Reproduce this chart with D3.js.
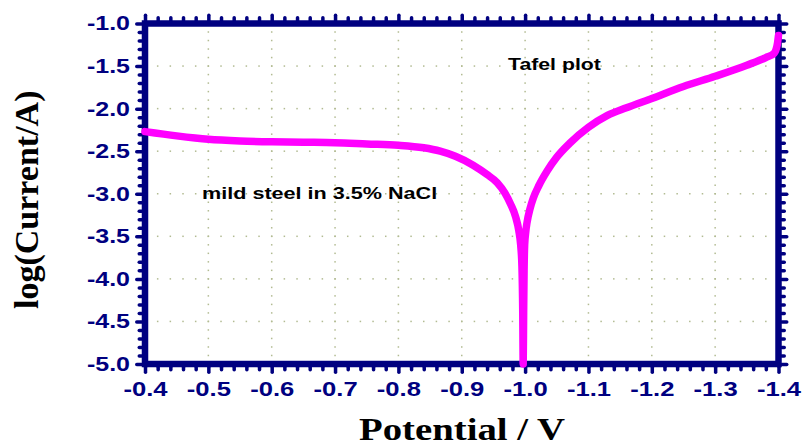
<!DOCTYPE html>
<html>
<head>
<meta charset="utf-8">
<script src="https://cdn.jsdelivr.net/npm/d3@7"></script>
<style>
  body { margin: 0; background: #fff; overflow: hidden; }
  svg { display: block; }
</style>
</head>
<body>
<div id="chart"></div>
<script>
// tick values
const xTicks = [-0.4, -0.5, -0.6, -0.7, -0.8, -0.9, -1.0, -1.1, -1.2, -1.3, -1.4];
const yTicks = [-1.0, -1.5, -2.0, -2.5, -3.0, -3.5, -4.0, -4.5, -5.0];

// polarisation curve (potential in V, log current)
const potential = [
  -0.40, -0.45, -0.50, -0.55, -0.60, -0.65, -0.70, -0.75, -0.80, -0.84,
  -0.866, -0.89, -0.918, -0.94, -0.956, -0.968, -0.977, -0.985, -0.990, -0.993,
  -0.995, -0.9963, -0.997, -0.9977, -0.9984, -0.9993, -1.001, -1.003, -1.008, -1.013,
  -1.022, -1.035, -1.05, -1.07, -1.10, -1.13, -1.16, -1.20, -1.25, -1.30,
  -1.35, -1.38, -1.393, -1.398, -1.40
];
const logCurrent = [
  -2.27, -2.32, -2.36, -2.38, -2.39, -2.395, -2.40, -2.415, -2.43, -2.46,
  -2.50, -2.56, -2.665, -2.775, -2.87, -2.99, -3.12, -3.27, -3.43, -3.60,
  -3.85, -4.4, -5.0, -4.4, -3.9, -3.6, -3.45, -3.34, -3.17, -3.05,
  -2.90, -2.73, -2.57, -2.41, -2.22, -2.08, -1.99, -1.88, -1.74, -1.62,
  -1.49, -1.40, -1.35, -1.25, -1.14
];

const W = 802, H = 447;
const navy = "#000080";

const svg = d3.select("#chart").append("svg")
  .attr("width", W).attr("height", H);

// scales
const x = d3.scaleLinear().domain([-0.4, -1.4]).range([145, 778.5]);
const y = d3.scaleLinear().domain([-1.0, -5.0]).range([23.5, 364]);
const [x0, x1] = x.range();
const [y0, y1] = y.range();

// stretch a text horizontally (the picture is wider than it is tall)
function stretch(sel, sx) {
  sel.each(function () {
    const w = this.getComputedTextLength();
    d3.select(this).attr("textLength", w * sx).attr("lengthAdjust", "spacingAndGlyphs");
  });
}

// dotted grid: dots at the minor steps along each major line
const xMinor = d3.range(0, 51).map((i) => -0.4 - i * 0.02);
const yMinor = d3.range(0, 41).map((i) => -1.0 - i * 0.1);
const grid = svg.append("g").attr("fill", "#b2bb92");
xTicks.slice(1, -1).forEach((v) => {
  grid.selectAll(null).data(yMinor.slice(1, -1)).join("rect")
    .attr("x", x(v) - 0.75).attr("y", (d) => y(d) - 0.75)
    .attr("width", 1.5).attr("height", 1.5);
});
yTicks.slice(1, -1).forEach((v) => {
  grid.selectAll(null).data(xMinor.slice(1, -1)).join("rect")
    .attr("x", (d) => x(d) - 0.75).attr("y", y(v) - 0.75)
    .attr("width", 1.5).attr("height", 1.5);
});

// frame
svg.append("rect")
  .attr("x", x0).attr("y", y0)
  .attr("width", x1 - x0).attr("height", y1 - y0)
  .attr("fill", "none").attr("stroke", navy).attr("stroke-width", 6.5);

// tick marks on all four sides
const half = 3.25;
function ticks(axis, tx, ty, values, size, width) {
  const g = svg.append("g")
    .attr("transform", `translate(${tx},${ty})`)
    .call(axis.tickValues(values).tickSize(size).tickSizeOuter(0).tickFormat(""));
  g.select(".domain").remove();
  g.selectAll("line").attr("stroke", navy).attr("stroke-width", width)
    .attr("stroke-linecap", "round");
}
const xMinorOnly = xMinor.filter((d, i) => i % 5 !== 0);
const yMinorOnly = yMinor.filter((d, i) => i % 5 !== 0);
ticks(d3.axisBottom(x), 0, y1 + half, xMinorOnly, 2.5, 3.5);
ticks(d3.axisBottom(x), 0, y1 + half, xTicks, 5, 3.5);
ticks(d3.axisTop(x), 0, y0 - half, xMinorOnly, 2.5, 3.5);
ticks(d3.axisTop(x), 0, y0 - half, xTicks, 5, 3.5);
ticks(d3.axisLeft(y), x0 - half, 0, yMinorOnly, 2.5, 3.5);
ticks(d3.axisLeft(y), x0 - half, 0, yTicks, 5, 3.5);
ticks(d3.axisRight(y), x1 + half, 0, yMinorOnly, 2.5, 3.5);
ticks(d3.axisRight(y), x1 + half, 0, yTicks, 5, 3.5);

// tick labels (plain hyphen as minus, like the original)
const fmt = (d) => d.toFixed(1);
const font = "'Liberation Sans', Arial, sans-serif";
const xLab = svg.append("g")
  .attr("transform", `translate(0,${y1})`)
  .call(d3.axisBottom(x).tickValues(xTicks).tickSize(0).tickFormat(fmt));
xLab.select(".domain").remove();
xLab.selectAll("text")
  .attr("fill", navy).attr("font-family", font)
  .attr("font-size", 21).attr("font-weight", "bold").attr("dy", "0.71em")
  .attr("y", 17).call(stretch, 1.22);

const yLab = svg.append("g")
  .attr("transform", `translate(${x0},0)`)
  .call(d3.axisLeft(y).tickValues(yTicks).tickSize(0).tickPadding(15).tickFormat(fmt));
yLab.select(".domain").remove();
yLab.selectAll("text")
  .attr("fill", navy).attr("font-family", font)
  .attr("font-size", 20).attr("font-weight", "bold").call(stretch, 1.25);

// curve
const line = d3.line()
  .x((d, i) => x(potential[i]))
  .y((d) => y(d))
  .curve(d3.curveMonotoneX);
svg.append("path")
  .datum(logCurrent)
  .attr("d", line)
  .attr("fill", "none")
  .attr("stroke", "#ff00ff")
  .attr("stroke-width", 7.5)
  .attr("stroke-linecap", "round")
  .attr("stroke-linejoin", "round");

// annotations
svg.append("text")
  .attr("x", 508).attr("y", 70)
  .attr("font-family", font).attr("font-size", 17).attr("font-weight", "bold")
  .text("Tafel plot").call(stretch, 1.25);
svg.append("text")
  .attr("x", 202).attr("y", 199)
  .attr("font-family", font).attr("font-size", 17).attr("font-weight", "bold")
  .text("mild steel in 3.5% NaCl").call(stretch, 1.27);

// axis titles
const serif = "'Liberation Serif', 'Times New Roman', serif";
svg.append("text")
  .attr("x", 462).attr("y", 440)
  .attr("text-anchor", "middle")
  .attr("font-family", serif).attr("font-size", 31).attr("font-weight", "bold")
  .text("Potential / V").call(stretch, 1.25);
svg.append("text")
  .attr("transform", `translate(38,${(y0 + y1) / 2 + 6}) rotate(-90)`)
  .attr("text-anchor", "middle")
  .attr("font-family", serif).attr("font-size", 34).attr("font-weight", "bold")
  .text("log(Current/A)");
</script>
</body>
</html>
